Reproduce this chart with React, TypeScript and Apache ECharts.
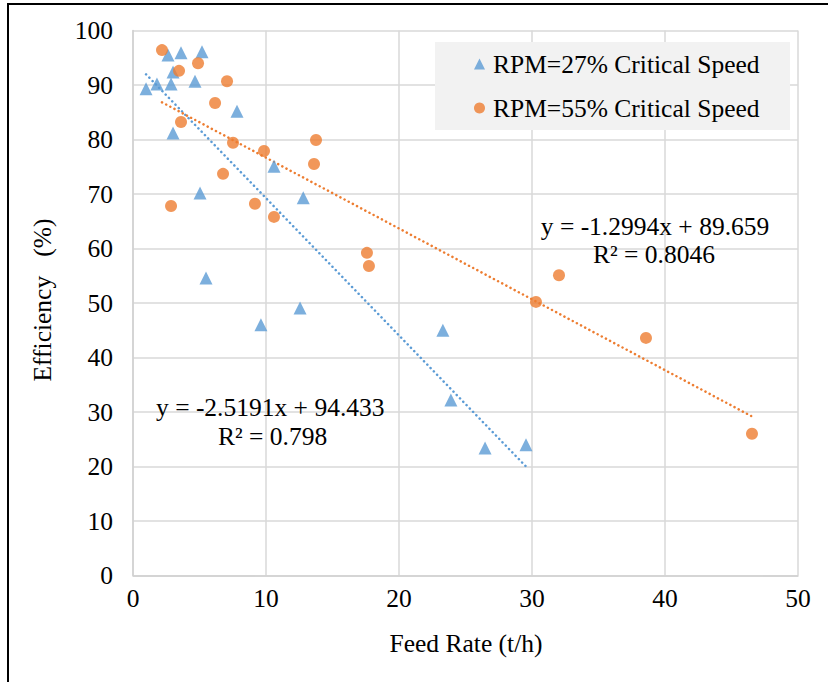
import React, { useEffect, useRef } from "react";
import * as echarts from "echarts";

const blueName = "RPM=27% Critical Speed";
const orangeName = "RPM=55% Critical Speed";

const blueX = [0.98, 1.8, 2.63, 2.86, 3.01, 3.61, 3.01, 4.66, 5.19, 7.82, 5.04, 5.49, 9.62, 10.6, 12.8, 12.56, 23.3, 23.9, 26.47, 29.55];
const blueY = [89.3, 90.2, 95.5, 90.2, 92.4, 95.9, 81.2, 90.7, 96.1, 85.2, 70.2, 54.6, 46.0, 75.1, 69.3, 49.1, 45.0, 32.2, 23.4, 24.0];

const orangeX = [2.18, 4.89, 3.46, 7.07, 6.17, 3.61, 7.52, 9.85, 13.76, 13.61, 6.77, 2.86, 9.17, 10.6, 17.59, 17.74, 32.03, 30.3, 38.57, 46.54];
const orangeY = [96.4, 94.0, 92.6, 90.7, 86.7, 83.2, 79.4, 77.9, 79.9, 75.5, 73.7, 67.8, 68.2, 65.8, 59.2, 56.8, 55.1, 50.2, 43.6, 26.0];

const blueSlope = -2.5191;
const blueIntercept = 94.433;
const blueR2 = "0.798";
const orangeSlope = -1.2994;
const orangeIntercept = 89.659;
const orangeR2 = "0.8046";

const xTicks = [0, 10, 20, 30, 40, 50];
const yTicks = [0, 10, 20, 30, 40, 50, 60, 70, 80, 90, 100];

const BLUE = "#5B9BD5";
const ORANGE = "#ED7D31";
const FONT = '"Liberation Serif", "Times New Roman", serif';
const FS = 25.5;

function trend(xs: number[], m: number, b: number) {
  const lo = Math.min(...xs);
  const hi = Math.max(...xs);
  return [
    [lo, m * lo + b],
    [hi, m * hi + b],
  ];
}

function zip(xs: number[], ys: number[]) {
  return xs.map((x, i) => [x, ys[i]]);
}

export default function App() {
  const ref = useRef<HTMLDivElement>(null);
  useEffect(() => {
    if (!ref.current) return;
    const chart = echarts.init(ref.current, null, { renderer: "svg" });
    const dotted = { width: 2.5, type: [0.1, 4.6] as any, cap: "round" as any };
    chart.setOption({
      animation: false,
      backgroundColor: "#ffffff",
      grid: { left: 133, right: 30, top: 30.5, bottom: 106.5, containLabel: false },
      xAxis: {
        type: "value",
        min: xTicks[0],
        max: xTicks[xTicks.length - 1],
        interval: 10,
        axisLine: { show: true, lineStyle: { color: "#d0d0d0", width: 1.5 } },
        axisTick: { show: false },
        splitLine: { show: true, lineStyle: { color: "#d9d9d9", width: 1.5 } },
        axisLabel: { color: "#000", fontFamily: FONT, fontSize: FS, margin: 10 },
      },
      yAxis: {
        type: "value",
        min: yTicks[0],
        max: yTicks[yTicks.length - 1],
        interval: 10,
        axisLine: { show: true, lineStyle: { color: "#d0d0d0", width: 1.5 } },
        axisTick: { show: false },
        splitLine: { show: true, lineStyle: { color: "#d9d9d9", width: 1.5 } },
        axisLabel: { color: "#000", fontFamily: FONT, fontSize: FS, margin: 20 },
      },
      legend: {
        orient: "vertical",
        left: 435,
        top: 42,
        padding: [7, 10, 7, 39],
        itemWidth: 11,
        itemHeight: 11,
        itemGap: 14,
        z: 5,
        textStyle: { color: "#000", fontFamily: FONT, fontSize: FS, lineHeight: 30, padding: [0, 0, 0, 3] },
        data: [blueName, orangeName],
      },
      graphic: [
        {
          type: "rect",
          z: 1,
          shape: { x: 435, y: 42, width: 355, height: 88 },
          style: { fill: "#f2f2f2" },
        },
        {
          type: "rect",
          z: 10,
          shape: { x: 8, y: 4, width: 840, height: 700 },
          style: { fill: "none", stroke: "#000", lineWidth: 2 },
        },
        {
          type: "text",
          z: 10,
          x: 466,
          y: 643,
          style: { text: "Feed Rate (t/h)", font: `${FS}px ${FONT}`, fill: "#000", align: "center", verticalAlign: "middle" },
        },
        {
          type: "text",
          z: 10,
          x: 42,
          y: 300,
          rotation: Math.PI / 2,
          style: { text: "Efficiency   (%)", font: `${FS}px ${FONT}`, fill: "#000", align: "center", verticalAlign: "middle" },
        },
        {
          type: "text",
          z: 10,
          x: 655,
          y: 226,
          style: {
            text: `y = ${orangeSlope}x + ${orangeIntercept}`,
            font: `${FS}px ${FONT}`,
            fill: "#000",
            align: "center",
            verticalAlign: "middle",
          },
        },
        {
          type: "text",
          z: 10,
          x: 654,
          y: 254,
          style: { text: `R² = ${orangeR2}`, font: `${FS}px ${FONT}`, fill: "#000", align: "center", verticalAlign: "middle" },
        },
        {
          type: "text",
          z: 10,
          x: 156,
          y: 407,
          style: {
            text: `y = ${blueSlope}x + ${blueIntercept}`,
            font: `${FS}px ${FONT}`,
            fill: "#000",
            align: "left",
            verticalAlign: "middle",
          },
        },
        {
          type: "text",
          z: 10,
          x: 218,
          y: 436,
          style: { text: `R² = ${blueR2}`, font: `${FS}px ${FONT}`, fill: "#000", align: "left", verticalAlign: "middle" },
        },
      ],
      series: [
        {
          name: blueName,
          type: "scatter",
          symbol: "triangle",
          symbolSize: 13,
          itemStyle: { color: BLUE },
          data: zip(blueX, blueY),
          z: 3,
        },
        {
          name: orangeName,
          type: "scatter",
          symbol: "circle",
          symbolSize: 12,
          itemStyle: { color: ORANGE },
          data: zip(orangeX, orangeY),
          z: 3,
        },
        {
          name: "blueTrend",
          type: "line",
          symbol: "none",
          silent: true,
          lineStyle: { ...dotted, color: BLUE },
          data: trend(blueX, blueSlope, blueIntercept),
          z: 2,
        },
        {
          name: "orangeTrend",
          type: "line",
          symbol: "none",
          silent: true,
          lineStyle: { ...dotted, color: ORANGE },
          data: trend(orangeX, orangeSlope, orangeIntercept),
          z: 2,
        },
      ],
    });
    return () => chart.dispose();
  }, []);
  return <div ref={ref} style={{ position: "fixed", left: 0, top: 0, width: 828, height: 682 }} />;
}
